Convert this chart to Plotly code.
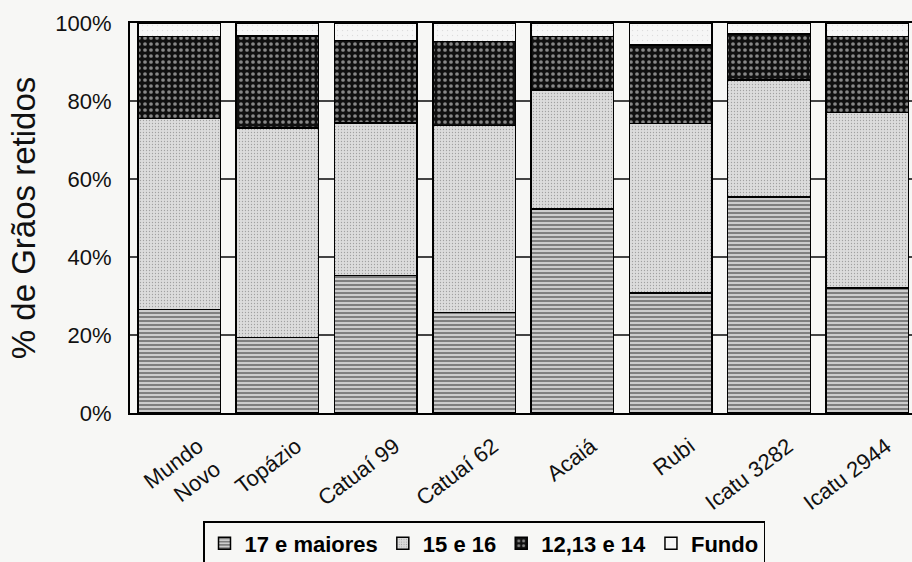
import plotly.graph_objects as go

# Coffee cultivars and share of retained beans per sieve class (%)
cultivares = ["Mundo<br>Novo", "Topázio", "Catuaí 99", "Catuaí 62",
              "Acaiá", "Rubi", "Icatu 3282", "Icatu 2944"]
peneira_17_maiores = [26.6, 19.4, 35.2, 25.8, 52.3, 30.8, 55.4, 32.0]
peneira_15_16 = [48.9, 53.7, 39.2, 47.9, 30.5, 43.4, 30.0, 45.0]
peneira_12_14 = [21.0, 23.6, 21.1, 21.5, 13.8, 20.1, 11.8, 19.5]
fundo = [3.5, 3.3, 4.5, 4.8, 3.4, 5.7, 2.8, 3.5]

y_ticks = [0, 20, 40, 60, 80, 100]
y_tick_labels = ["0%", "20%", "40%", "60%", "80%", "100%"]

FONT = "Liberation Sans, Arial, sans-serif"
PAPER = "#f7f7f5"

series = [
    ("17 e maiores", peneira_17_maiores,
     dict(shape="-", fgcolor="#000000", bgcolor="#ffffff", size=4, solidity=0.7)),
    ("15 e 16", peneira_15_16,
     dict(shape=".", fgcolor="#666666", bgcolor="#dcdcdc", size=3, solidity=0.15)),
    ("12,13 e 14", peneira_12_14,
     dict(shape=".", fgcolor="#ffffff", bgcolor="#101010", size=6, solidity=0.3)),
    ("Fundo", fundo,
     dict(shape=".", fgcolor="#c4c4c4", bgcolor="#f6f6f6", size=5, solidity=0.05)),
]

fig = go.Figure()
for name, vals, pat in series:
    fig.add_trace(go.Bar(
        name=name,
        x=cultivares,
        y=vals,
        marker=dict(pattern=pat, line=dict(color="#000000", width=1.5)),
    ))

fig.update_layout(
    width=912,
    height=562,
    barmode="stack",
    bargap=0.16,
    paper_bgcolor=PAPER,
    plot_bgcolor=PAPER,
    margin=dict(l=130, r=0, t=23, b=149),
    font=dict(family=FONT, color="#111111"),
    showlegend=True,
    legend=dict(
        orientation="h",
        xref="container",
        yref="container",
        x=203 / 912,
        xanchor="left",
        y=1 - 521 / 562,
        yanchor="top",
        font=dict(size=22, family=FONT, color="#000000", weight="bold"),
        bordercolor="#000000",
        borderwidth=1.5,
        bgcolor="rgba(0,0,0,0)",
        traceorder="normal",
        itemwidth=30,
    ),
)

fig.update_xaxes(
    type="category",
    range=[-0.5, 7.455],
    showline=True,
    linecolor="#000000",
    linewidth=2,
    mirror=True,
    showgrid=False,
    ticks="",
    tickangle=-37,
    tickfont=dict(size=22, family=FONT, color="#111111"),
    ticklabelshift=19,
    ticklabelstandoff=10,
    automargin=False,
)

fig.update_yaxes(
    range=[0, 100],
    tickmode="array",
    tickvals=y_ticks,
    ticktext=y_tick_labels,
    showline=True,
    linecolor="#000000",
    linewidth=2,
    showgrid=True,
    gridcolor="#444444",
    gridwidth=1.5,
    zeroline=False,
    ticks="",
    ticklabelstandoff=12,
    tickfont=dict(size=22, family=FONT, color="#111111"),
    title=dict(text="% de Grãos retidos", font=dict(size=33, family=FONT, color="#111111"),
               standoff=10),
    automargin=False,
)

fig.write_html("out.html")
